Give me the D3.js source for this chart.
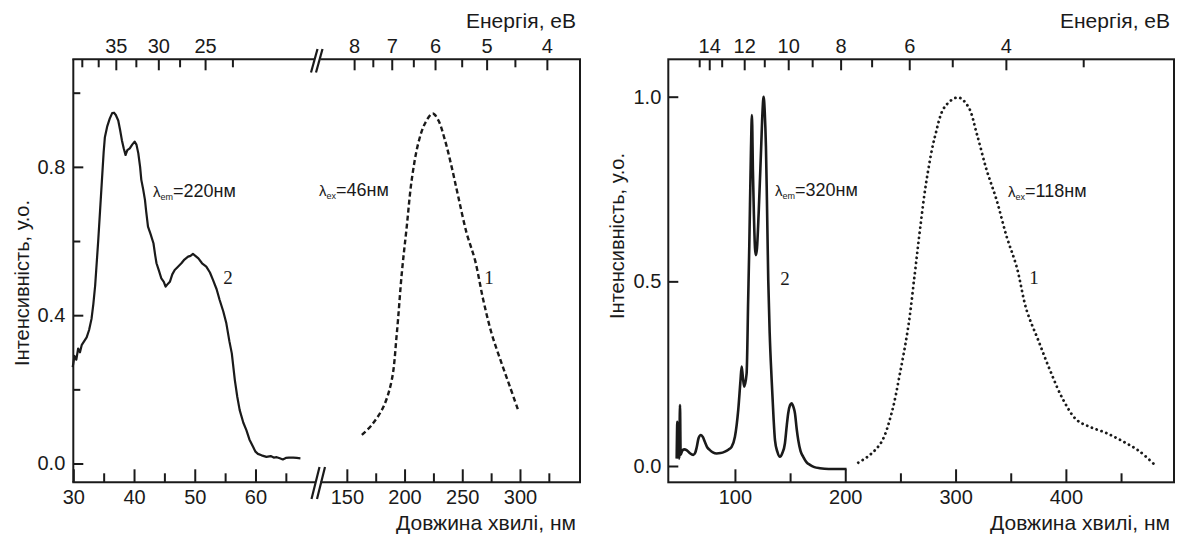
<!DOCTYPE html>
<html><head><meta charset="utf-8">
<script src="https://cdn.jsdelivr.net/npm/d3@7"></script>
<style>
html,body{margin:0;padding:0;background:#fff;}
svg{display:block;font-family:"Liberation Sans",Arial,sans-serif;}
</style></head>
<body>
<svg id="c" width="1178" height="538"></svg>
<script>
// ===== DATA =====
// Left panel, curve 2 (solid): wavelength nm, intensity
const leftEmNm  = [29.9,30.2,30.5,30.8,31.1,31.4,31.8,32.2,32.6,33.0,33.3,33.6,34.1,34.4,34.7,35.0,35.2,35.6,36.0,36.4,36.7,37.0,37.4,37.7,38.0,38.3,38.6,38.9,39.3,39.7,40.1,40.4,40.7,41.0,41.2,41.5,41.8,42.0,42.3,42.7,43.2,43.5,43.7,44.1,44.5,44.9,45.2,45.6,45.9,46.3,46.7,47.2,47.8,48.3,48.9,49.3,49.7,50.1,50.6,51.2,51.9,52.5,53.0,53.6,54.1,54.7,55.2,55.7,56.1,56.6,57.0,57.4,58.0,58.5,59.0,59.6,60.0,60.4,61.0,61.8,62.5,63.0,63.5,64.0,64.5,65.0,65.5,66.2,66.8,67.4];
const leftEmVal = [0.26,0.29,0.28,0.31,0.30,0.32,0.33,0.34,0.36,0.39,0.43,0.48,0.60,0.68,0.76,0.84,0.88,0.91,0.93,0.945,0.946,0.94,0.925,0.90,0.872,0.85,0.832,0.845,0.85,0.86,0.868,0.86,0.837,0.80,0.765,0.74,0.711,0.68,0.639,0.62,0.594,0.56,0.54,0.52,0.499,0.49,0.477,0.485,0.49,0.51,0.522,0.53,0.54,0.55,0.558,0.56,0.565,0.56,0.553,0.54,0.531,0.515,0.495,0.47,0.441,0.41,0.378,0.33,0.297,0.225,0.18,0.144,0.11,0.09,0.065,0.045,0.032,0.026,0.022,0.018,0.02,0.016,0.017,0.014,0.011,0.015,0.016,0.016,0.015,0.014];
// Left panel, curve 1 (dashed)
const leftExNm  = [163.0,171.6,181.7,188.9,193.3,197.6,201.9,206.2,211.9,217.7,224.4,229.2,235.0,240.8,246.5,253.8,261.0,268.2,275.4,284.1,291.3,298.4];
const leftExVal = [0.077,0.104,0.153,0.225,0.351,0.513,0.639,0.765,0.864,0.917,0.944,0.926,0.872,0.800,0.720,0.621,0.549,0.441,0.351,0.270,0.207,0.144];
// Right panel, curve 2 (solid)
const rightEmNm  = [47.2,47.8,48.3,49.0,49.5,50.2,50.8,52,54,56.2,59,62.2,64,65.3,67,69.2,71,72.8,75,77.3,80,83.4,87,90.9,94,97,100,103,105,106.1,107.2,108.4,110.6,112,113,114.5,115.4,116.3,117.2,118.2,119,120,121.5,123.8,125,126,127,128.1,129,130.2,131.5,133.3,135,136.3,138.5,140.8,143,145.3,147,148.3,150,151.4,153,154.4,156,157.4,159.5,161.9,165,168,172,177,185,201.2];
const rightEmVal = [0.02,0.12,0.03,0.10,0.02,0.165,0.03,0.04,0.045,0.043,0.035,0.03,0.036,0.05,0.075,0.084,0.078,0.065,0.05,0.043,0.037,0.034,0.035,0.039,0.044,0.052,0.079,0.152,0.23,0.269,0.24,0.215,0.251,0.45,0.594,0.85,0.95,0.80,0.68,0.59,0.571,0.59,0.684,0.865,0.96,1.0,0.96,0.865,0.72,0.504,0.36,0.233,0.13,0.07,0.038,0.025,0.035,0.061,0.11,0.143,0.165,0.17,0.16,0.143,0.10,0.07,0.04,0.025,0.01,0.003,-0.003,-0.006,-0.008,-0.008];
// Right panel, curve 1 (dotted)
const rightExNm  = [211.8,222.4,233.0,242.0,249.6,257.1,263.1,267.7,273.7,281.3,290.3,302.4,311.5,319.1,328.1,337.2,346.3,355.3,364.4,374.9,385.5,397.6,409.7,421.8,436.9,452.0,467.1,482.2];
const rightExVal = [0.009,0.030,0.066,0.143,0.251,0.377,0.522,0.639,0.774,0.892,0.973,0.998,0.973,0.901,0.802,0.720,0.621,0.540,0.422,0.341,0.260,0.179,0.125,0.106,0.089,0.066,0.039,-0.002];

// Tick values
const leftYMajor = [0.0,0.4,0.8];
const leftYMinor = [0.2,0.6,1.0];
const rightYTicks = [0.0,0.5,1.0];
const leftXA_major = [30,40,50,60];
const leftXA_minor = [35,45,55,65];
const leftXB_major = [150,200,250,300];
const leftXB_minor = [175,225,275,325];
const rightX_major = [100,200,300,400];
const rightX_minor = [150,250,350,450];
// Top energy axes: energy value and its position (nm)
const leftTopA_eV = [40,37.5,35,32.5,30,27.5,25,22.5];
const leftTopA_nm = [31.4,34.1,37.0,40.3,44.0,47.5,51.7,56.2];
const leftTopA_lab = [35,30,25];
const leftTopB_eV = [8,7.5,7,6.5,6,5.5,5,4.5,4];
const leftTopB_nm = [156.3,172.5,188.9,207.6,226.4,249.5,271.1,295.6,323.3];
const leftTopB_lab = [8,7,6,5,4];
const rightTop_eV = [15,14,13,12,11,10,9,8,7,6,5,4,3];
const rightTop_nm = [67.6,76.7,88.0,108.4,126.6,148.3,170.0,195.8,223.9,258.0,297.0,345.6,415.7];
const rightTop_lab = [14,12,10,8,6,4];

const xTitle = "Довжина хвилі, нм";
const topTitle = "Енергія, еВ";
const yTitle = "Інтенсивність, у.о.";

// ===== DRAW =====
const svg = d3.select("#c");
const INK = "#1a1a1a";
const TOP = 59.3, BOT = 482.3;

// Left panel scales
const L = {x0:73.3, x1:580};
const xA = d3.scaleLinear().domain([30,69.8]).range([73.3,315]);
const xB = d3.scaleLinear().domain([127,352]).range([320.3,580]);
const yL = d3.scaleLinear().domain([0,1]).range([463.5,92.7]);
// Right panel scales
const R = {x0:668.3, x1:1174};
const xR = d3.scaleLinear().domain([39.6,498]).range([668.3,1174]);
const yR = d3.scaleLinear().domain([0,1]).range([466,96.7]);

function styleAxis(g, fs){
  g.select(".domain").remove();
  g.selectAll(".tick line").attr("stroke",INK).attr("stroke-width",2);
  g.selectAll(".tick text").attr("fill",INK).style("font-family",'"Liberation Sans",Arial,sans-serif').style("font-size",fs+"px");
}
function addAxis(axis, tx, ty, fs){
  const g = svg.append("g").attr("transform",`translate(${tx},${ty})`).call(axis);
  styleAxis(g, fs||20);
  return g;
}

// ---- Left panel axes ----
addAxis(d3.axisLeft(yL).tickValues(leftYMajor).tickSize(-10).tickPadding(8).tickFormat(d3.format(".1f")), L.x0, 0);
addAxis(d3.axisLeft(yL).tickValues(leftYMinor).tickSize(-7).tickFormat(""), L.x0, 0);
addAxis(d3.axisBottom(xA).tickValues(leftXA_major).tickSize(-13).tickPadding(8).tickFormat(d3.format("d")), 0, BOT);
addAxis(d3.axisBottom(xA).tickValues(leftXA_minor).tickSize(-9).tickFormat(""), 0, BOT);
addAxis(d3.axisBottom(xB).tickValues(leftXB_major).tickSize(-13).tickPadding(8).tickFormat(d3.format("d")), 0, BOT);
addAxis(d3.axisBottom(xB).tickValues(leftXB_minor).tickSize(-9).tickFormat(""), 0, BOT);

// top energy axes (positions via nm scales)
function energyAxis(scale, eV, nm, labs){
  const pos = eV.map((e,i)=>({e, x:scale(nm[i])}));
  const sc = d3.scaleOrdinal().domain(eV).range(pos.map(p=>p.x));
  const major = eV.filter(e=>labs.includes(e));
  const minor = eV.filter(e=>!labs.includes(e));
  addAxis(d3.axisTop(sc).tickValues(major).tickSize(-11).tickPadding(6).tickFormat(d3.format("d")), 0, TOP);
  addAxis(d3.axisTop(sc).tickValues(minor).tickSize(-8).tickFormat(""), 0, TOP);
}
energyAxis(xA, leftTopA_eV, leftTopA_nm, leftTopA_lab);
energyAxis(xB, leftTopB_eV, leftTopB_nm, leftTopB_lab);

// frame of left panel with breaks
const fr = svg.append("g").attr("stroke",INK).attr("stroke-width",2).attr("fill","none");
fr.append("line").attr("x1",L.x0).attr("x2",L.x0).attr("y1",TOP).attr("y2",BOT);
fr.append("line").attr("x1",L.x1).attr("x2",L.x1).attr("y1",TOP).attr("y2",BOT);
fr.append("line").attr("x1",L.x0-1).attr("x2",xA.range()[1]).attr("y1",TOP).attr("y2",TOP);
fr.append("line").attr("x1",xB.range()[0]).attr("x2",L.x1+1).attr("y1",TOP).attr("y2",TOP);
fr.append("line").attr("x1",L.x0-1).attr("x2",xA.range()[1]).attr("y1",BOT).attr("y2",BOT);
fr.append("line").attr("x1",xB.range()[0]).attr("x2",L.x1+1).attr("y1",BOT).attr("y2",BOT);
// break marks
const brk = svg.append("g").attr("stroke",INK).attr("stroke-width",2.2);
[[311,72.5,317.5,49],[316,72.5,322.5,49],[311.5,499,319.5,467],[317,499,325,467]].forEach(d=>{
  brk.append("line").attr("x1",d[0]).attr("y1",d[1]).attr("x2",d[2]).attr("y2",d[3]);
});

// ---- Right panel axes ----
addAxis(d3.axisLeft(yR).tickValues(rightYTicks).tickSize(-10).tickPadding(7).tickFormat(d3.format(".1f")), R.x0, 0);
addAxis(d3.axisBottom(xR).tickValues(rightX_major).tickSize(-13).tickPadding(8).tickFormat(d3.format("d")), 0, BOT);
addAxis(d3.axisBottom(xR).tickValues(rightX_minor).tickSize(-9).tickFormat(""), 0, BOT);
energyAxis(xR, rightTop_eV, rightTop_nm, rightTop_lab);
svg.append("rect").attr("x",R.x0).attr("y",TOP).attr("width",R.x1-R.x0).attr("height",BOT-TOP)
  .attr("fill","none").attr("stroke",INK).attr("stroke-width",2);

// ---- Curves ----
function pts(nm, v){ return nm.map((n,i)=>[n, v[i]]); }
const lineA = d3.line().x(d=>xA(d[0])).y(d=>yL(d[1]));
const lineB = d3.line().x(d=>xB(d[0])).y(d=>yL(d[1])).curve(d3.curveCatmullRom);
const lineR2 = d3.line().x(d=>xR(d[0])).y(d=>yR(d[1])).curve(d3.curveMonotoneX);
const lineR1 = d3.line().x(d=>xR(d[0])).y(d=>yR(d[1])).curve(d3.curveCatmullRom);

svg.append("path").attr("d",lineA(pts(leftEmNm,leftEmVal))).attr("fill","none").attr("stroke",INK).attr("stroke-width",2.2).attr("stroke-linejoin","round");
svg.append("path").attr("d",lineB(pts(leftExNm,leftExVal))).attr("fill","none").attr("stroke",INK).attr("stroke-width",2.4).attr("stroke-dasharray","5,3");
svg.append("path").attr("d",lineR2(pts(rightEmNm,rightEmVal))).attr("fill","none").attr("stroke",INK).attr("stroke-width",2.6).attr("stroke-linejoin","round");
svg.append("path").attr("d",lineR1(pts(rightExNm,rightExVal))).attr("fill","none").attr("stroke",INK).attr("stroke-width",2.8).attr("stroke-dasharray","0.1,5").attr("stroke-linecap","round");

// ---- Titles ----
function txt(x,y,s,fs,anchor){
  return svg.append("text").attr("x",x).attr("y",y).attr("fill",INK).attr("font-size",fs).attr("text-anchor",anchor||"start").text(s);
}
txt(576,28,topTitle,21,"end");
txt(1170,28,topTitle,21,"end");
txt(576,530,xTitle,21,"end");
txt(1170,530,xTitle,21,"end");
svg.append("text").attr("transform","translate(29,283) rotate(-90)").attr("text-anchor","middle").attr("font-size",20).attr("fill",INK).text(yTitle);
svg.append("text").attr("transform","translate(624,236) rotate(-90)").attr("text-anchor","middle").attr("font-size",20).attr("fill",INK).text(yTitle);

// ---- Annotations ----
function lam(x,y,sub,rest){
  const t = svg.append("text").attr("x",x).attr("y",y).attr("fill",INK).attr("font-size",18);
  t.append("tspan").attr("font-size",15).text("λ");
  t.append("tspan").attr("font-size",9).attr("dy",3).text(sub);
  t.append("tspan").attr("dy",-3).text(rest);
}
lam(153,197,"em","=220нм");
lam(319,196,"ex","=46нм");
lam(775,196,"em","=320нм");
lam(1008,197,"ex","=118нм");
function num(x,y,s){
  svg.append("text").attr("x",x).attr("y",y).attr("fill",INK).attr("font-size",19)
    .style("font-family",'"Liberation Serif","Times New Roman",serif').attr("text-anchor","middle").text(s);
}
num(228,284,"2");
num(489,284,"1");
num(785,285,"2");
num(1034,284,"1");
</script>
</body></html>
